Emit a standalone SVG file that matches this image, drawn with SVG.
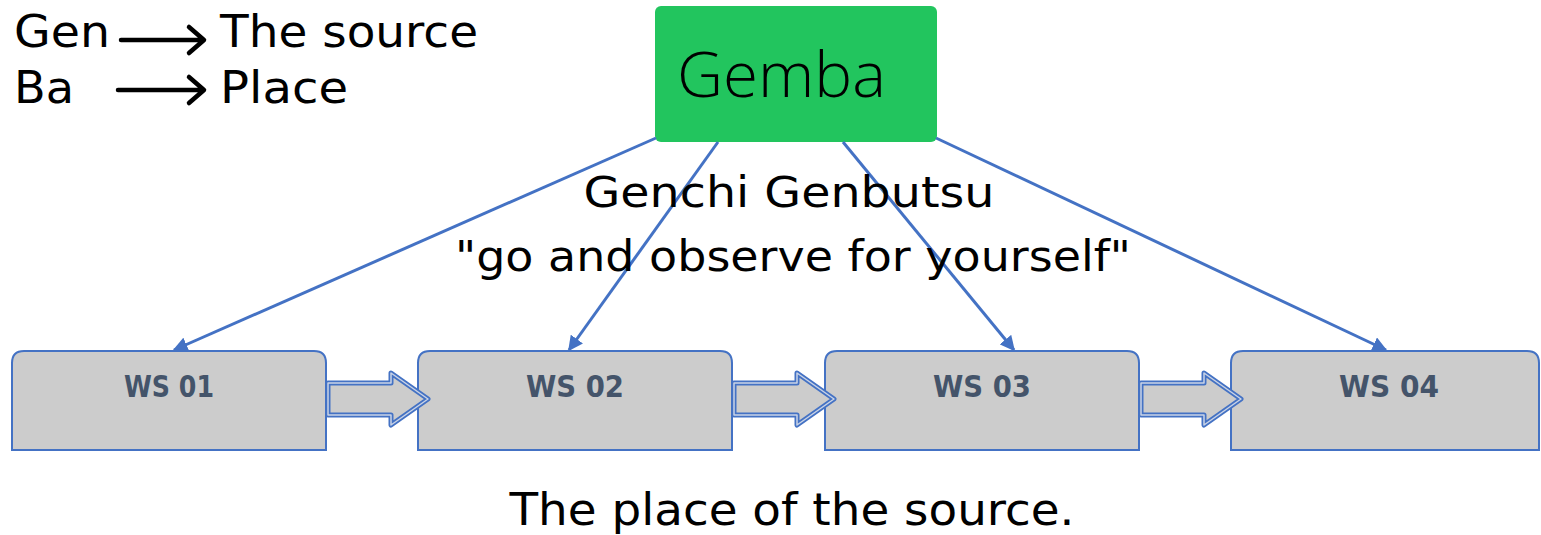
<svg xmlns="http://www.w3.org/2000/svg" width="1541" height="535" viewBox="0 0 1541 535">
<defs>
<style>
.t{font-family:"DejaVu Sans","Noto Sans",sans-serif;font-weight:400;fill:#000}
.ws{fill:#cccccc;stroke:#4472c4;stroke-width:2}
.wl{font-family:"DejaVu Sans","Noto Sans",sans-serif;font-weight:700;font-size:30px;fill:#44546a;text-anchor:middle}
.conn{stroke:#4472c4;stroke-width:3;fill:none}
.ba-o{fill:#cccccc;stroke:#4472c4;stroke-width:5;stroke-linejoin:round}
.ba-i{fill:none;stroke:#c9d3e6;stroke-width:1.5;stroke-linejoin:round}
</style>
<marker id="ah" viewBox="0 0 10 10" refX="9" refY="5" markerWidth="5" markerHeight="5" orient="auto" markerUnits="strokeWidth">
<path d="M0,0 L10,5 L0,10 z" fill="#4472c4"/>
</marker>
<path id="barrow" d="M0,0 H63 V-10 L100,16 L63,42 V32 H0 Z"/>
</defs>

<g id="legend">
<text class="t" x="14" y="47" font-size="44" textLength="96" lengthAdjust="spacingAndGlyphs">Gen</text>
<path d="M121,40 H203 M189,27 L204,40 L189,53" fill="none" stroke="#000" stroke-width="4.5" stroke-linecap="round" stroke-linejoin="round"/>
<text class="t" x="220" y="47" font-size="44" textLength="258" lengthAdjust="spacingAndGlyphs">The source</text>
<text class="t" x="14" y="103" font-size="44" textLength="60" lengthAdjust="spacingAndGlyphs">Ba</text>
<path d="M118,90 H203 M189,77 L204,90 L189,103" fill="none" stroke="#000" stroke-width="4.5" stroke-linecap="round" stroke-linejoin="round"/>
<text class="t" x="220" y="103" font-size="44" textLength="128" lengthAdjust="spacingAndGlyphs">Place</text>
</g>

<g id="gemba">
<rect x="655" y="6" width="282" height="136" rx="6" fill="#22c55e"/>
<text x="677" y="97" font-family="Open Sans, Noto Sans, sans-serif" font-weight="300" font-size="62" textLength="209" lengthAdjust="spacingAndGlyphs" fill="#000">Gemba</text>
</g>

<g id="connectors">
<line class="conn" x1="656" y1="138" x2="174" y2="350" marker-end="url(#ah)"/>
<line class="conn" x1="718" y1="142" x2="569" y2="350" marker-end="url(#ah)"/>
<line class="conn" x1="843" y1="142" x2="1014" y2="350" marker-end="url(#ah)"/>
<line class="conn" x1="936" y1="138" x2="1386" y2="350" marker-end="url(#ah)"/>
</g>

<g id="caption">
<text class="t" x="789" y="207" font-size="43" text-anchor="middle" textLength="411" lengthAdjust="spacingAndGlyphs">Genchi Genbutsu</text>
<text class="t" x="793" y="271" font-size="43" text-anchor="middle" textLength="676" lengthAdjust="spacingAndGlyphs">"go and observe for yourself"</text>
</g>

<g id="ws01">
<path class="ws" d="M12,450 V363 Q12,351 24,351 H314 Q326,351 326,363 V450 Z"/>
<text class="wl" x="169" y="397" textLength="90" lengthAdjust="spacingAndGlyphs">WS 01</text>
</g>
<g id="ws02">
<path class="ws" d="M418,450 V363 Q418,351 430,351 H720 Q732,351 732,363 V450 Z"/>
<text class="wl" x="575" y="397" textLength="98" lengthAdjust="spacingAndGlyphs">WS 02</text>
</g>
<g id="ws03">
<path class="ws" d="M825,450 V363 Q825,351 837,351 H1127 Q1139,351 1139,363 V450 Z"/>
<text class="wl" x="982" y="397" textLength="98" lengthAdjust="spacingAndGlyphs">WS 03</text>
</g>
<g id="ws04">
<path class="ws" d="M1231,450 V363 Q1231,351 1243,351 H1527 Q1539,351 1539,363 V450 Z"/>
<text class="wl" x="1389" y="397" textLength="100" lengthAdjust="spacingAndGlyphs">WS 04</text>
</g>

<g id="flow-arrows">
<g transform="translate(328,383)"><use href="#barrow" class="ba-o"/><use href="#barrow" class="ba-i"/></g>
<g transform="translate(734,383)"><use href="#barrow" class="ba-o"/><use href="#barrow" class="ba-i"/></g>
<g transform="translate(1141,383)"><use href="#barrow" class="ba-o"/><use href="#barrow" class="ba-i"/></g>
</g>

<g id="footer">
<text class="t" x="792" y="525" font-size="44" text-anchor="middle" textLength="565" lengthAdjust="spacingAndGlyphs">The place of the source.</text>
</g>
</svg>
